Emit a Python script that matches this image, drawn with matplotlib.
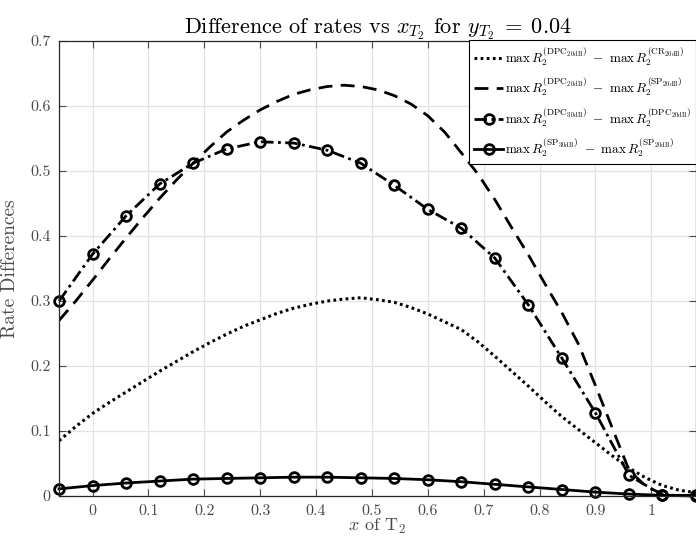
import matplotlib
matplotlib.use('Agg')
import matplotlib.pyplot as plt

# ======================
# Data
# ======================
x_curve = [-0.06, -0.03, 0.00, 0.03, 0.06, 0.09, 0.12, 0.15, 0.18, 0.21,
           0.24, 0.27, 0.30, 0.33, 0.36, 0.39, 0.42, 0.45, 0.48, 0.51,
           0.54, 0.57, 0.60, 0.63, 0.66, 0.69, 0.72, 0.75, 0.78, 0.81,
           0.84, 0.87, 0.90, 0.93, 0.96, 0.99, 1.02, 1.05, 1.08]

dpc_minus_cr = [0.085, 0.107, 0.127, 0.144, 0.160, 0.176, 0.192, 0.207, 0.222, 0.236,
                0.249, 0.261, 0.271, 0.281, 0.289, 0.295, 0.300, 0.303, 0.305, 0.302,
                0.298, 0.290, 0.280, 0.268, 0.256, 0.237, 0.215, 0.192, 0.169, 0.145,
                0.122, 0.102, 0.082, 0.062, 0.043, 0.028, 0.016, 0.009, 0.005]

dpc_minus_sp = [0.270, 0.300, 0.332, 0.365, 0.397, 0.428, 0.458, 0.486, 0.512, 0.537,
                0.560, 0.578, 0.594, 0.607, 0.618, 0.625, 0.630, 0.632, 0.630, 0.625,
                0.616, 0.603, 0.585, 0.560, 0.528, 0.495, 0.456, 0.413, 0.371, 0.326,
                0.282, 0.233, 0.170, 0.105, 0.040, 0.015, 0.003, 0.000, 0.000]

x_marker = [-0.06, 0.00, 0.06, 0.12, 0.18, 0.24, 0.30, 0.36, 0.42, 0.48,
            0.54, 0.60, 0.66, 0.72, 0.78, 0.84, 0.90, 0.96, 1.02, 1.08]

dpc30_minus_dpc20 = [0.300, 0.372, 0.431, 0.480, 0.512, 0.534, 0.545, 0.543, 0.532, 0.512,
                     0.478, 0.441, 0.412, 0.366, 0.294, 0.212, 0.128, 0.032, 0.001, 0.000]

sp30_minus_sp20 = [0.011, 0.016, 0.020, 0.023, 0.026, 0.027, 0.028, 0.029, 0.029, 0.028,
                   0.027, 0.025, 0.022, 0.018, 0.014, 0.010, 0.006, 0.003, 0.001, 0.001]

x_ticks = [0, 0.1, 0.2, 0.3, 0.4, 0.5, 0.6, 0.7, 0.8, 0.9, 1]
x_tick_labels = ['0', '0.1', '0.2', '0.3', '0.4', '0.5', '0.6', '0.7', '0.8', '0.9', '1']
y_ticks = [0, 0.1, 0.2, 0.3, 0.4, 0.5, 0.6, 0.7]
y_tick_labels = ['0', '0.1', '0.2', '0.3', '0.4', '0.5', '0.6', '0.7']

labels = [r'$\max\,R_2^{(\mathrm{DPC}_{20\mathrm{dB}})}\ -\ \max\,R_2^{(\mathrm{CR}_{20\mathrm{dB}})}$',
          r'$\max\,R_2^{(\mathrm{DPC}_{20\mathrm{dB}})}\ -\ \max\,R_2^{(\mathrm{SP}_{20\mathrm{dB}})}$',
          r'$\max\,R_2^{(\mathrm{DPC}_{30\mathrm{dB}})}\ -\ \max\,R_2^{(\mathrm{DPC}_{20\mathrm{dB}})}$',
          r'$\max\,R_2^{(\mathrm{SP}_{30\mathrm{dB}})}\ -\ \max\,R_2^{(\mathrm{SP}_{20\mathrm{dB}})}$']

# ======================
# Style
# ======================
plt.rcParams['font.family'] = 'serif'
plt.rcParams['font.serif'] = ['cmr10', 'DejaVu Serif']
plt.rcParams['mathtext.fontset'] = 'cm'
plt.rcParams['axes.unicode_minus'] = False
plt.rcParams['axes.formatter.use_mathtext'] = True

tick_gray = '#4a4a4a'

fig = plt.figure(figsize=(6.96, 5.36), dpi=100)
ax = fig.add_axes([0.0848, 0.0746, 0.9152, 0.8489])

ax.plot(x_curve, dpc_minus_cr, color='k', lw=2.2, linestyle=(0, (0.9, 1.1)),
        label=labels[0])
ax.plot(x_curve, dpc_minus_sp, color='k', lw=2.0, linestyle=(0, (5, 3)),
        label=labels[1])
ax.plot(x_marker, dpc30_minus_dpc20, color='k', lw=2.0, linestyle=(0, (4.5, 1.6, 1, 1.6)),
        marker='o', markersize=7, markerfacecolor='none', markeredgewidth=2.0,
        label=labels[2], clip_on=False)
ax.plot(x_marker, sp30_minus_sp20, color='k', lw=2.0, linestyle='-',
        marker='o', markersize=7, markerfacecolor='none', markeredgewidth=2.0,
        label=labels[3], clip_on=False)

ax.set_xlim(-0.06, 1.08)
ax.set_ylim(0, 0.7)
ax.set_xticks(x_ticks)
ax.set_xticklabels(x_tick_labels)
ax.set_yticks(y_ticks)
ax.set_yticklabels(y_tick_labels)
ax.tick_params(direction='in', top=True, right=True, length=5, width=0.8,
               colors=tick_gray, labelsize=11.5, pad=6)
ax.grid(True, color='#e3e3e3', linewidth=0.9)
ax.set_axisbelow(True)
for s in ax.spines.values():
    s.set_color('#262626')
    s.set_linewidth(0.9)

ax.set_title(r'Difference of rates vs $x_{T_2}$ for $y_{T_2}\;=\;0.04$', fontsize=16, pad=5)
ax.set_xlabel(r'$x$ of $\mathrm{T}_2$', fontsize=13, color=tick_gray, labelpad=-1)
ax.set_ylabel('Rate Differences', fontsize=14, color=tick_gray, labelpad=8)

leg = ax.legend(loc='upper right', bbox_to_anchor=(1.0, 1.002), fontsize=9.5,
                fancybox=False, framealpha=1, edgecolor='k', handlelength=2.2,
                handletextpad=0.1, borderpad=0.4, labelspacing=0.6, borderaxespad=0)
leg.get_frame().set_linewidth(0.8)

fig.savefig('out.png', dpi=100)
